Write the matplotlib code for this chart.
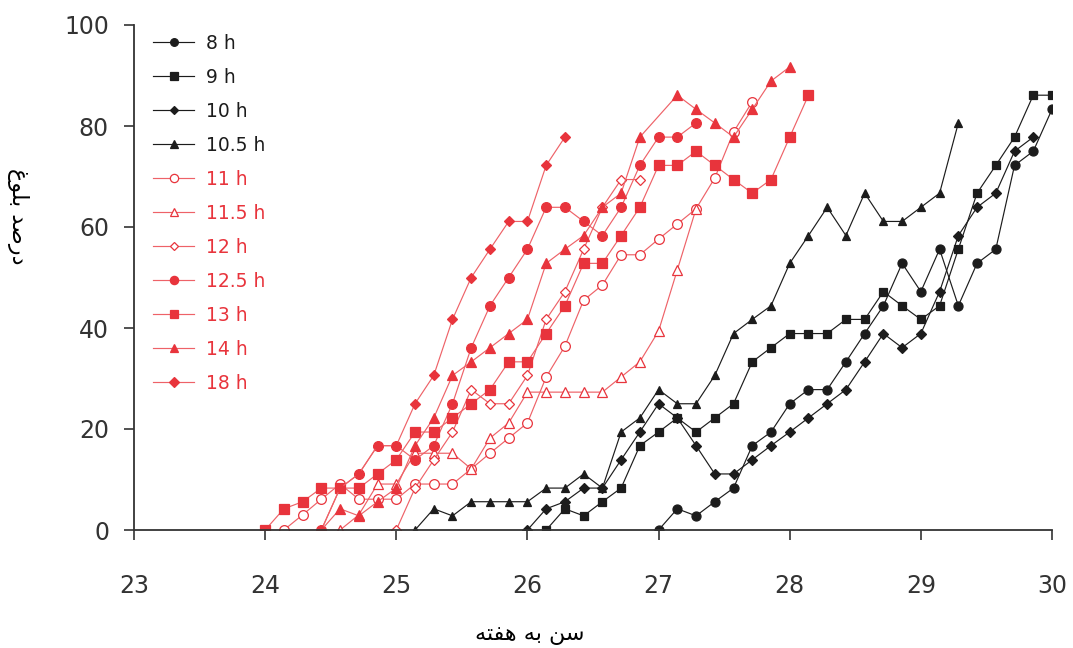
import numpy as np
import matplotlib
matplotlib.use("Agg")
from matplotlib import pyplot as plt

# ages are in days (week * 7); values are percent
days_8h = list(range(189, 211))
pct_8h = [0, 4.2, 2.8, 5.6, 8.3, 16.7, 19.4, 25, 27.8, 27.8, 33.3, 38.9, 44.4, 52.8,
          47.2, 55.6, 44.4, 52.8, 55.6, 72.2, 75, 83.3]

days_9h = list(range(183, 211))
pct_9h = [0, 4.2, 2.8, 5.6, 8.3, 16.7, 19.4, 22.2, 19.4, 22.2, 25, 33.3, 36.1, 38.9,
          38.9, 38.9, 41.7, 41.7, 47.2, 44.4, 41.7, 44.4, 55.6, 66.7, 72.2, 77.8, 86.1, 86.1]

days_10h = list(range(182, 210))
pct_10h = [0, 4.2, 5.6, 8.3, 8.3, 13.9, 19.4, 25, 22.2, 16.7, 11.1, 11.1, 13.9, 16.7,
           19.4, 22.2, 25, 27.8, 33.3, 38.9, 36.1, 38.9, 47.2, 58.3, 63.9, 66.7, 75, 77.8]

days_10_5h = list(range(176, 206))
pct_10_5h = [0, 4.2, 2.8, 5.6, 5.6, 5.6, 5.6, 8.3, 8.3, 11.1, 8.3, 19.4, 22.2, 27.8,
             25, 25, 30.6, 38.9, 41.7, 44.4, 52.8, 58.3, 63.9, 58.3, 66.7, 61.1, 61.1,
             63.9, 66.7, 80.6]

days_11h = list(range(169, 195))
pct_11h = [0, 3.0, 6.1, 9.1, 6.1, 6.1, 6.1, 9.1, 9.1, 9.1, 12.1, 15.2, 18.2, 21.2,
           30.3, 36.4, 45.5, 48.5, 54.5, 54.5, 57.6, 60.6, 63.6, 69.7, 78.8, 84.8]

days_11_5h = list(range(172, 192))
pct_11_5h = [0, 3.0, 9.1, 9.1, 15.2, 15.2, 15.2, 12.1, 18.2, 21.2, 27.3, 27.3, 27.3,
             27.3, 27.3, 30.3, 33.3, 39.4, 51.5, 63.6]

days_12h = list(range(175, 189))
pct_12h = [0, 8.3, 13.9, 19.4, 27.8, 25, 25, 30.6, 41.7, 47.2, 55.6, 63.9, 69.4, 69.4]

days_12_5h = list(range(171, 192))
pct_12_5h = [0, 8.3, 11.1, 16.7, 16.7, 13.9, 16.7, 25, 36.1, 44.4, 50, 55.6, 63.9,
             63.9, 61.1, 58.3, 63.9, 72.2, 77.8, 77.8, 80.6]

days_13h = list(range(168, 198))
pct_13h = [0, 4.2, 5.6, 8.3, 8.3, 8.3, 11.1, 13.9, 19.4, 19.4, 22.2, 25, 27.8, 33.3,
           33.3, 38.9, 44.4, 52.8, 52.8, 58.3, 63.9, 72.2, 72.2, 75, 72.2, 69.4, 66.7,
           69.4, 77.8, 86.1]

days_14h = list(range(171, 189)) + list(range(190, 197))
pct_14h = [0, 4.2, 2.8, 5.6, 8.3, 16.7, 22.2, 30.6, 33.3, 36.1, 38.9, 41.7, 52.8, 55.6,
           58.3, 63.9, 66.7, 77.8, 86.1, 83.3, 80.6, 77.8, 83.3, 88.9, 91.7]

days_18h = list(range(171, 185))
pct_18h = [0, 8.3, 11.1, 16.7, 16.7, 25, 30.6, 41.7, 50, 55.6, 61.1, 61.1, 72.2, 77.8]

labels = ["8 h", "9 h", "10 h", "10.5 h", "11 h", "11.5 h", "12 h", "12.5 h",
          "13 h", "14 h", "18 h"]
x_ticks = [23, 24, 25, 26, 27, 28, 29, 30]
y_ticks = [0, 20, 40, 60, 80, 100]

x_title = "سن به هفته"
y_title = "درصد بلوغ"


# minimal arabic shaping (matplotlib draws glyphs left to right, unjoined)
FORMS = {
    "ب": (0xFE8F, 0xFE90, 0xFE91, 0xFE92), "ت": (0xFE95, 0xFE96, 0xFE97, 0xFE98),
    "د": (0xFEA9, 0xFEAA, None, None), "ر": (0xFEAD, 0xFEAE, None, None),
    "س": (0xFEB1, 0xFEB2, 0xFEB3, 0xFEB4), "ص": (0xFEB9, 0xFEBA, 0xFEBB, 0xFEBC),
    "غ": (0xFECD, 0xFECE, 0xFECF, 0xFED0), "ف": (0xFED1, 0xFED2, 0xFED3, 0xFED4),
    "ل": (0xFEDD, 0xFEDE, 0xFEDF, 0xFEE0), "ن": (0xFEE5, 0xFEE6, 0xFEE7, 0xFEE8),
    "ه": (0xFEE9, 0xFEEA, 0xFEEB, 0xFEEC), "و": (0xFEED, 0xFEEE, None, None),
}

def shape(txt):
    out = []
    for i, c in enumerate(txt):
        if c not in FORMS:
            out.append(c)
            continue
        prev = txt[i - 1] if i > 0 else ""
        nxt = txt[i + 1] if i + 1 < len(txt) else ""
        jp = prev in FORMS and FORMS[prev][2] is not None
        jn = nxt in FORMS and FORMS[c][2] is not None
        iso, fin, ini, med = FORMS[c]
        if jp and jn:
            f = med
        elif jp:
            f = fin
        elif jn:
            f = ini
        else:
            f = iso
        out.append(chr(f))
    return "".join(out[::-1])


black = "#1c1c1c"
red = "#e8343c"
red_line = "#ee6268"

series = [
    (days_8h, pct_8h, "o", 6.5, black, black),
    (days_9h, pct_9h, "s", 6, black, black),
    (days_10h, pct_10h, "D", 5, black, black),
    (days_10_5h, pct_10_5h, "^", 6, black, black),
    (days_11h, pct_11h, "o", 7, "white", red),
    (days_11_5h, pct_11_5h, "^", 7, "white", red),
    (days_12h, pct_12h, "D", 5, "white", red),
    (days_12_5h, pct_12_5h, "o", 7, red, red),
    (days_13h, pct_13h, "s", 6.5, red, red),
    (days_14h, pct_14h, "^", 6.5, red, red),
    (days_18h, pct_18h, "D", 5.5, red, red),
]

fig = plt.figure(figsize=(10.73, 6.48), dpi=100)
ax = fig.add_axes([134 / 1073, 1 - 530 / 648, 918 / 1073, 505 / 648])

handles = []
for (d, p, m, ms, fc, ec), lab in zip(series, labels):
    lc = black if ec == black else red_line
    h, = ax.plot(np.array(d) / 7.0, p, marker=m, ms=ms, mfc=fc, mec=ec, mew=0.9,
                 color=lc, lw=0.85, label=lab)
    handles.append(h)

ax.set_xlim(23, 30)
ax.set_ylim(0, 100)
ax.set_xticks(x_ticks)
ax.set_yticks(y_ticks)
for s in ["top", "right"]:
    ax.spines[s].set_visible(False)
for s in ["left", "bottom"]:
    ax.spines[s].set_color("#333333")
    ax.spines[s].set_linewidth(1.3)
ax.tick_params(axis="x", length=7, width=1.2, pad=25, labelsize=17, colors="#333333")
ax.tick_params(axis="y", length=7, width=1.2, pad=11, labelsize=17, colors="#333333")

leg_colors = [black] * 4 + [red] * 7
ax.legend(handles=handles, loc="upper left", bbox_to_anchor=(153 / 1073, 1 - 34 / 648),
          bbox_transform=fig.transFigure, frameon=False, fontsize=13.5,
          handlelength=2.2, handletextpad=0.65, labelspacing=0.80,
          borderaxespad=0, borderpad=0, labelcolor=leg_colors, markerscale=0.85)

fig.text(530 / 1073, 1 - 635 / 648, shape(x_title), ha="center", va="center",
         fontsize=16, color="black", family="DejaVu Sans")
fig.text(18 / 1073, 1 - 216 / 648, shape(y_title), ha="center", va="center",
         fontsize=16, color="black", rotation=270, family="DejaVu Sans")

fig.savefig("out.png", dpi=100, facecolor="white")
